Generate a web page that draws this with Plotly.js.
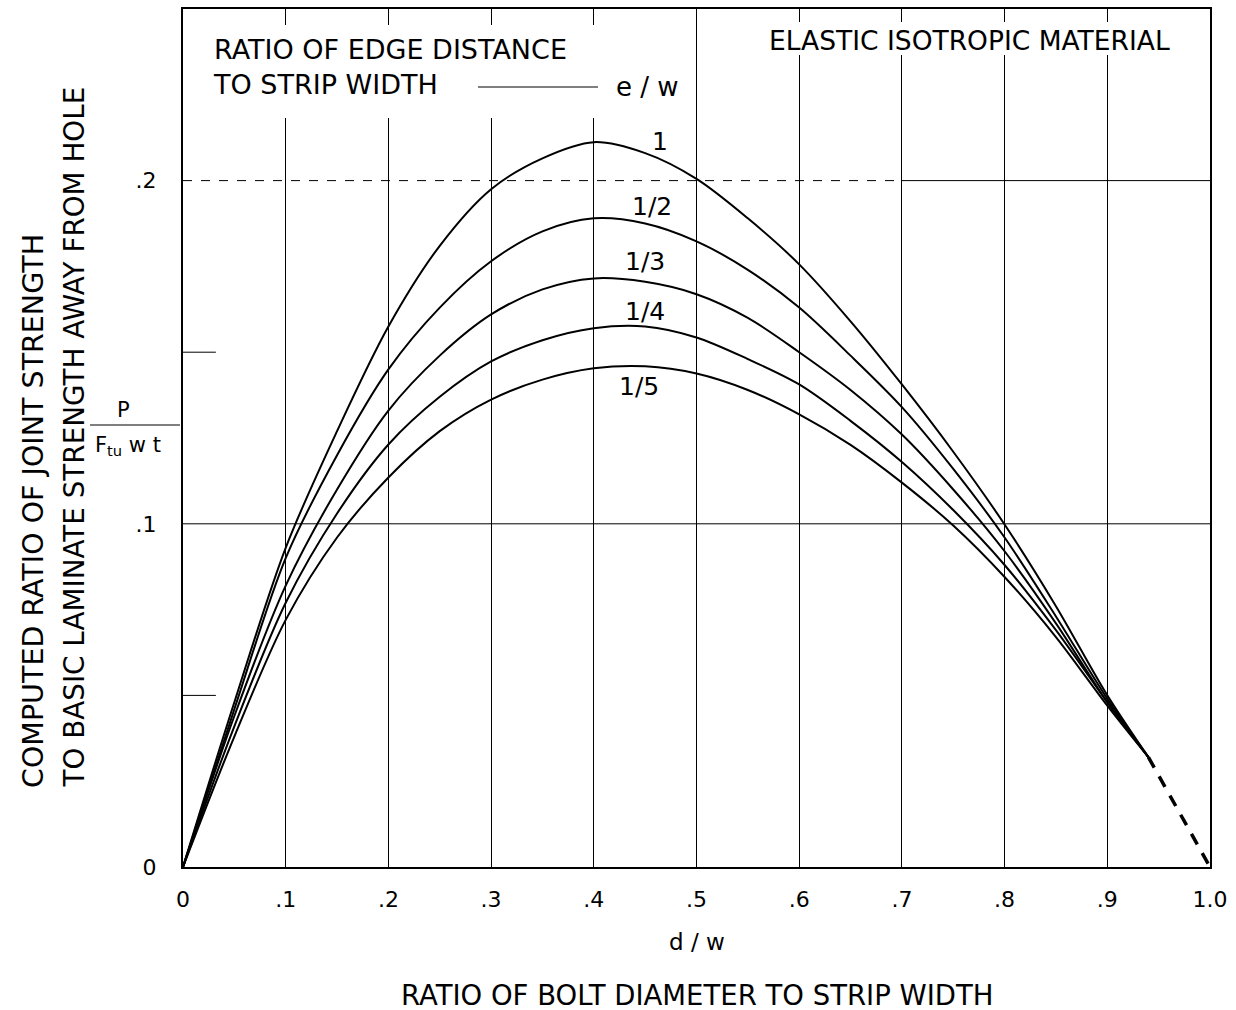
<!DOCTYPE html>
<html>
<head>
<meta charset="utf-8">
<script src="https://cdn.plot.ly/plotly-3.0.1.min.js"></script>
<style>html,body{margin:0;padding:0;background:#fff;}#chart{width:1236px;height:1010px;}</style>
</head>
<body>
<div id="chart"></div>
<script>
// Ratio of bolt diameter to strip width (d/w)
const dw = [0, 0.05, 0.1, 0.15, 0.2, 0.25, 0.3, 0.35, 0.4, 0.45, 0.5, 0.55, 0.6, 0.65, 0.7, 0.75, 0.8, 0.85, 0.9, 0.94];
// Computed ratio P/(Ftu w t) for each e/w
const ew_1   = [0, 0.048, 0.093, 0.127, 0.1575, 0.181, 0.1975, 0.2065, 0.2112, 0.208, 0.2005, 0.189, 0.1756, 0.159, 0.1406, 0.121, 0.0998, 0.076, 0.050, 0.032];
const ew_1_2 = [0, 0.046, 0.090, 0.120, 0.1450, 0.163, 0.1765, 0.1852, 0.189, 0.1875, 0.1823, 0.174, 0.163, 0.149, 0.134, 0.116, 0.096, 0.073, 0.049, 0.032];
const ew_1_3 = [0, 0.044, 0.082, 0.110, 0.1330, 0.149, 0.1610, 0.1683, 0.1715, 0.1705, 0.1669, 0.160, 0.150, 0.139, 0.126, 0.110, 0.092, 0.071, 0.048, 0.032];
const ew_1_4 = [0, 0.041, 0.077, 0.103, 0.1231, 0.137, 0.1473, 0.1535, 0.157, 0.1575, 0.1543, 0.148, 0.1406, 0.130, 0.118, 0.104, 0.088, 0.069, 0.048, 0.032];
const ew_1_5 = [0, 0.038, 0.072, 0.096, 0.1135, 0.127, 0.1362, 0.142, 0.1453, 0.1459, 0.1438, 0.139, 0.1319, 0.123, 0.112, 0.0995, 0.0845, 0.067, 0.047, 0.032];
// Dashed extrapolation to d/w = 1
const extX = [0.94, 1.0];
const extY = [0.032, 0];

const seriesNames = ['1', '1/2', '1/3', '1/4', '1/5'];
const seriesVals = [ew_1, ew_1_2, ew_1_3, ew_1_4, ew_1_5];
// label positions (d/w, value) for the curve labels
const labelX = [0.464, 0.457, 0.450, 0.450, 0.444];
const labelY = [0.2115, 0.1925, 0.1765, 0.1620, 0.1400];

const xTickVals = [0, 0.1, 0.2, 0.3, 0.4, 0.5, 0.6, 0.7, 0.8, 0.9, 1.0];
const xTickText = ['0', '.1', '.2', '.3', '.4', '.5', '.6', '.7', '.8', '.9', '1.0'];
const yTickVals = [0, 0.1, 0.2];
const yTickText = ['0', '.1', '.2'];

const FONT = 'DejaVu Sans, sans-serif';
const W = 1236, H = 1010, L = 183, R = 1210, T = 9, B = 867;
const px = v => (v - L) / (R - L);      // pixel x -> paper x
const py = v => (B - v) / (B - T);      // pixel y -> paper y

const traces = seriesVals.map((vals, i) => ({
  x: dw, y: vals, type: 'scatter', mode: 'lines', name: seriesNames[i],
  line: {color: '#000', width: 2, shape: 'spline', smoothing: 0.9},
  hoverinfo: 'skip', showlegend: false
}));
traces.push({
  x: extX, y: extY, type: 'scatter', mode: 'lines', line: {color: '#000', width: 3.5, dash: '12px,10px'},
  hoverinfo: 'skip', showlegend: false
});

const shapes = [
  // white masks breaking the vertical grid behind the text blocks
  {type: 'rect', xref: 'paper', yref: 'paper', x0: px(196), x1: px(690), y0: py(118), y1: py(25), fillcolor: '#fff', line: {width: 0}, layer: 'above'},
  {type: 'rect', xref: 'paper', yref: 'paper', x0: px(745), x1: px(1196), y0: py(55), y1: py(22), fillcolor: '#fff', line: {width: 0}, layer: 'above'},
  // horizontal grid lines
  {type: 'line', xref: 'x', yref: 'y', x0: 0, x1: 1, y0: 0.1, y1: 0.1, line: {color: '#000', width: 1}, layer: 'between'},
  {type: 'line', xref: 'x', yref: 'y', x0: 0, x1: 0.7, y0: 0.2, y1: 0.2, line: {color: '#000', width: 1, dash: 'dash'}, layer: 'between'},
  {type: 'line', xref: 'x', yref: 'y', x0: 0.7, x1: 1, y0: 0.2, y1: 0.2, line: {color: '#000', width: 1}, layer: 'between'},
  // short interior ticks at .05 and .15
  {type: 'line', xref: 'x', yref: 'y', x0: 0, x1: 0.032, y0: 0.05, y1: 0.05, line: {color: '#000', width: 1}},
  {type: 'line', xref: 'x', yref: 'y', x0: 0, x1: 0.032, y0: 0.15, y1: 0.15, line: {color: '#000', width: 1}},
  // legend key line
  {type: 'line', xref: 'paper', yref: 'paper', x0: px(478), x1: px(598), y0: py(87), y1: py(87), line: {color: '#000', width: 1}},
  // fraction bar
  {type: 'line', xref: 'paper', yref: 'paper', x0: px(90), x1: px(180), y0: py(425), y1: py(425), line: {color: '#000', width: 1.2}}
];

const ann = (x, y, text, size, opts) => Object.assign({
  xref: 'paper', yref: 'paper', x: px(x), y: py(y), text: text, showarrow: false,
  font: {family: FONT, size: size, color: '#000'}, xanchor: 'center', yanchor: 'middle'
}, opts || {});

const annotations = [
  ann(211, 67, 'RATIO OF EDGE DISTANCE<br>TO STRIP WIDTH', 27, {xanchor: 'left', align: 'left'}),
  ann(647, 87, 'e / w', 26),
  ann(969, 40, 'ELASTIC ISOTROPIC MATERIAL', 26.5),
  ann(33, 790, 'COMPUTED RATIO OF JOINT STRENGTH', 28.5, {textangle: -90, yanchor: 'bottom'}),
  ann(74, 790, 'TO BASIC LAMINATE STRENGTH AWAY FROM HOLE', 27.8, {textangle: -90, yanchor: 'bottom'}),
  ann(123, 410, 'P', 21),
  ann(128, 446, 'F<sub>tu</sub> w t', 21),
  ann(697, 942, 'd / w', 23),
  ann(697, 995, 'RATIO OF BOLT DIAMETER TO STRIP WIDTH', 27.5)
];
seriesNames.forEach((n, i) => annotations.push({
  xref: 'x', yref: 'y', x: labelX[i], y: labelY[i], text: n, showarrow: false,
  font: {family: FONT, size: 25, color: '#000'}, xanchor: 'center', yanchor: 'middle'
}));

const layout = {
  width: W, height: H,
  margin: {l: L, r: W - R, t: T, b: H - B, pad: 0},
  paper_bgcolor: '#fff', plot_bgcolor: '#fff',
  font: {family: FONT, size: 22, color: '#000'},
  xaxis: {
    range: [0, 1], tickvals: xTickVals, ticktext: xTickText, ticks: '',
    showgrid: true, gridcolor: '#000', gridwidth: 1, zeroline: false,
    showline: true, mirror: true, linecolor: '#000', linewidth: 2,
    tickfont: {family: FONT, size: 22}, ticklabelstandoff: 12
  },
  yaxis: {
    range: [0, 0.25], tickvals: yTickVals, ticktext: yTickText, ticks: '',
    showgrid: false, zeroline: false,
    showline: true, mirror: true, linecolor: '#000', linewidth: 2,
    tickfont: {family: FONT, size: 22}, ticklabelstandoff: 20
  },
  shapes: shapes,
  annotations: annotations,
  showlegend: false
};

Plotly.newPlot('chart', traces, layout, {staticPlot: true});
</script>
</body>
</html>
